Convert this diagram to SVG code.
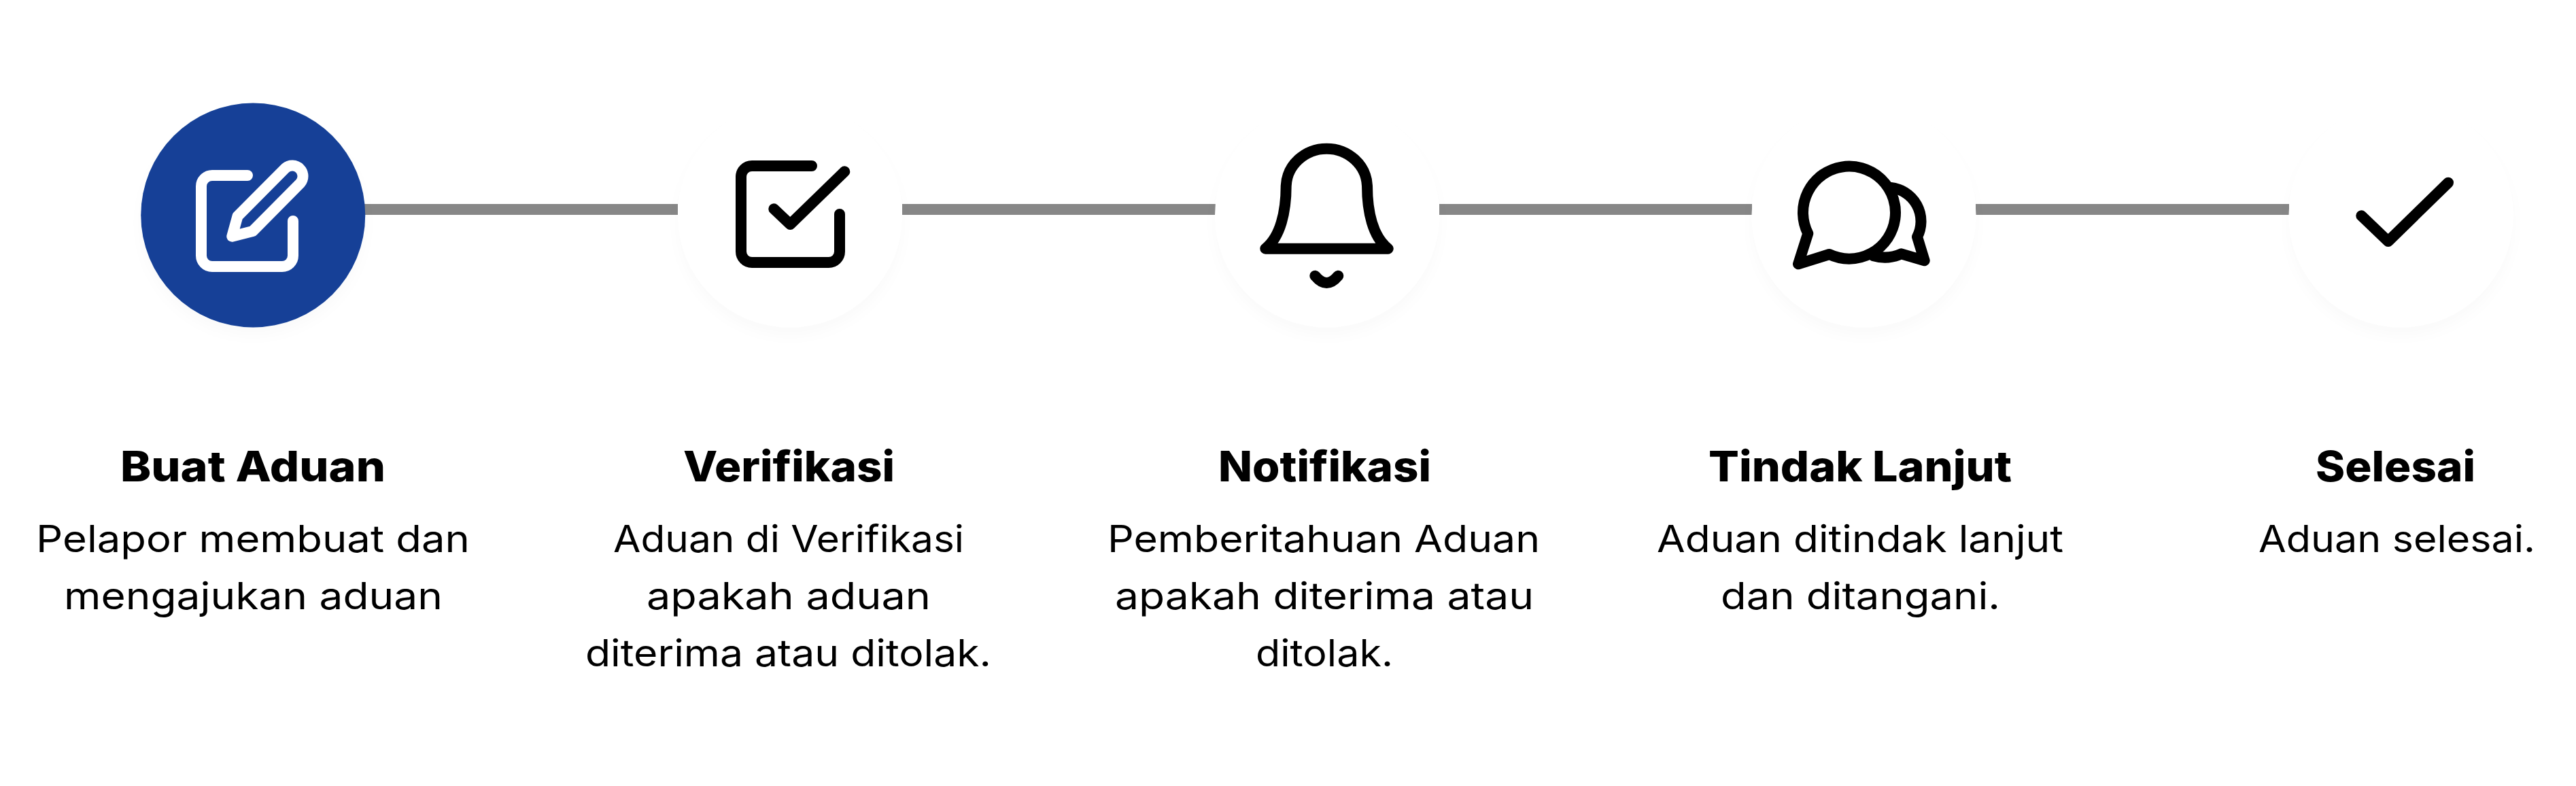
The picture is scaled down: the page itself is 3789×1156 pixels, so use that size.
<svg xmlns="http://www.w3.org/2000/svg" width="3789" height="1156" viewBox="0 0 3789 1156">
<style>
.bg{fill:#fff}
.link{fill:#878787}
.disc{fill:#fff;filter:url(#sh)}
.disc.on{fill:#134097}
.ic{fill:none;stroke:#000;stroke-width:16;stroke-linecap:round;stroke-linejoin:round}
.ic.w{stroke:#fff}
.t{font-family:"Inter","Liberation Sans",sans-serif;font-weight:800;font-size:62px;fill:#000}
.b{font-family:"Inter","Liberation Sans",sans-serif;font-weight:400;font-size:55px;fill:#000}
</style>
<defs>
<filter id="sh" x="-20%" y="-20%" width="140%" height="150%"><feDropShadow dx="0" dy="12" stdDeviation="9" flood-color="#000" flood-opacity="0.02"/></filter>
</defs>
<rect class="bg" width="3789" height="1156"/>
<g id="connectors">
<rect class="link" x="530" y="300" width="467" height="16"/>
<rect class="link" x="1327" y="300" width="461" height="16"/>
<rect class="link" x="2117" y="300" width="460" height="16"/>
<rect class="link" x="2906" y="300" width="461" height="16"/>
</g>
<g id="node-buat-aduan">
<circle class="disc on" cx="372.25" cy="316.5" r="165"/>
<path class="ic w" d="M364 258H312A16 16 0 0 0 296 274V376A16 16 0 0 0 312 392H415A16 16 0 0 0 431 376V325"/>
<path class="ic w" d="M341.3 347.7L349.5 318L419.7 247.3A15.6 15.6 0 0 1 441.7 269.3L371.7 340Z"/>
<text class="t" x="177" y="708" textLength="390" lengthAdjust="spacingAndGlyphs">Buat Aduan</text>
<text class="b" x="53" y="812" textLength="638" lengthAdjust="spacingAndGlyphs">Pelapor membuat dan</text>
<text class="b" x="94" y="896" textLength="557" lengthAdjust="spacingAndGlyphs">mengajukan aduan</text>
</g>
<g id="node-verifikasi">
<circle class="disc" cx="1162" cy="316.5" r="165"/>
<path class="ic" d="M1194 244H1106A16 16 0 0 0 1090 260V370A16 16 0 0 0 1106 386H1219A16 16 0 0 0 1235 370V315"/>
<path class="ic" d="M1138.3 307.3L1162.3 330L1242.3 252.3"/>
<text class="t" x="1005" y="708" textLength="311" lengthAdjust="spacingAndGlyphs">Verifikasi</text>
<text class="b" x="902" y="812" textLength="516" lengthAdjust="spacingAndGlyphs">Aduan di Verifikasi</text>
<text class="b" x="951" y="896" textLength="418" lengthAdjust="spacingAndGlyphs">apakah aduan</text>
<text class="b" x="861" y="980" textLength="597" lengthAdjust="spacingAndGlyphs">diterima atau ditolak.</text>
</g>
<g id="node-notifikasi">
<circle class="disc" cx="1952" cy="316.5" r="165"/>
<path class="ic" d="M1861.3 365.7C1883.3 348.3 1891.7 311.7 1891.7 273.3A59.7 57 0 0 1 2011 273.3C2011 311.7 2019.3 348.3 2041.7 365.7Z"/>
<path class="ic" d="M1934.3 405.7Q1951.3 426.3 1968.3 405.7"/>
<text class="t" x="1792" y="708" textLength="313" lengthAdjust="spacingAndGlyphs">Notifikasi</text>
<text class="b" x="1629" y="812" textLength="636" lengthAdjust="spacingAndGlyphs">Pemberitahuan Aduan</text>
<text class="b" x="1640" y="896" textLength="616" lengthAdjust="spacingAndGlyphs">apakah diterima atau</text>
<text class="b" x="1847" y="980" textLength="202" lengthAdjust="spacingAndGlyphs">ditolak.</text>
</g>
<g id="node-tindak-lanjut">
<circle class="disc" cx="2741.5" cy="316.5" r="165"/>
<path class="ic" d="M2690.7 374A68 68 0 1 0 2659.3 343.3L2645 388.3Z"/>
<path class="ic" d="M2780 275.7A50 50 0 0 1 2820 348.3L2830.7 383.3L2796.7 373.3A60 60 0 0 1 2755 376"/>
<text class="t" x="2513" y="708" textLength="446" lengthAdjust="spacingAndGlyphs">Tindak Lanjut</text>
<text class="b" x="2437" y="812" textLength="598" lengthAdjust="spacingAndGlyphs">Aduan ditindak lanjut</text>
<text class="b" x="2531" y="896" textLength="411" lengthAdjust="spacingAndGlyphs">dan ditangani.</text>
</g>
<g id="node-selesai">
<circle class="disc" cx="3531.5" cy="316.5" r="165"/>
<path class="ic" d="M3473.3 317.3L3512.7 355L3601 268.7"/>
<text class="t" x="3406" y="708" textLength="235" lengthAdjust="spacingAndGlyphs">Selesai</text>
<text class="b" x="3322" y="812" textLength="407" lengthAdjust="spacingAndGlyphs">Aduan selesai.</text>
</g>
</svg>
